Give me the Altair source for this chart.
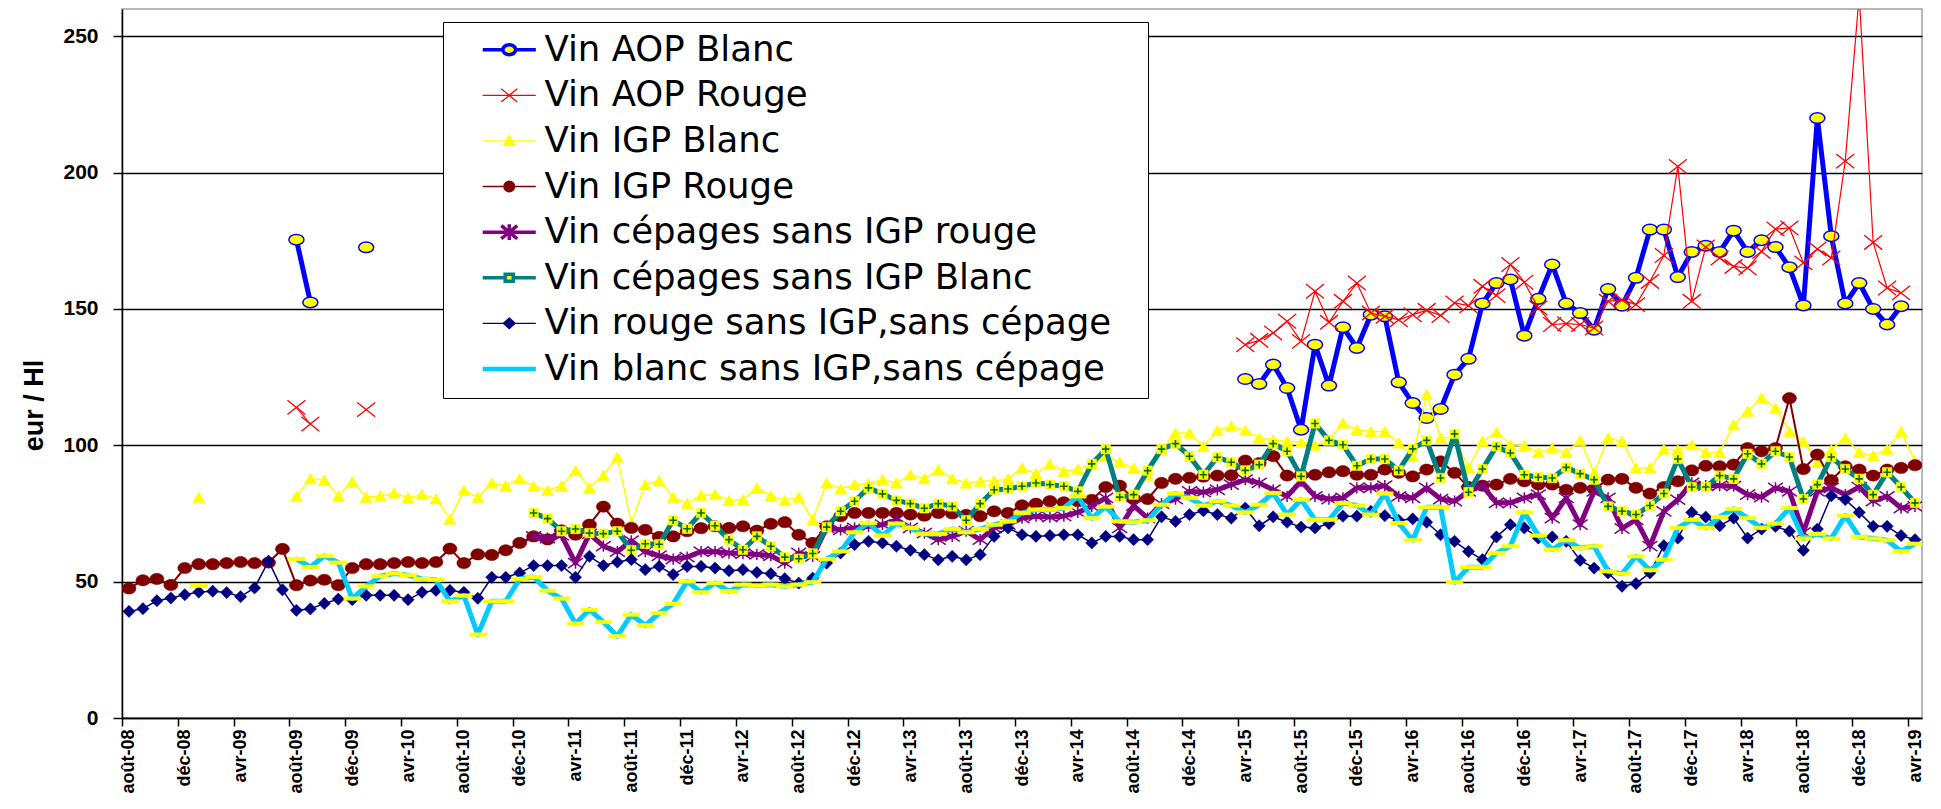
import json
import altair as alt
import pandas as pd

N = None

SERIES = [
    "Vin AOP Blanc",
    "Vin AOP Rouge",
    "Vin IGP Blanc",
    "Vin IGP Rouge",
    "Vin cépages sans IGP rouge",
    "Vin cépages sans IGP Blanc",
    "Vin rouge sans IGP,sans cépage",
    "Vin blanc sans IGP,sans cépage",
]

TICK_LABELS = [
    "août-08", "déc-08", "avr-09", "août-09", "déc-09", "avr-10", "août-10", "déc-10",
    "avr-11", "août-11", "déc-11", "avr-12", "août-12", "déc-12", "avr-13", "août-13",
    "déc-13", "avr-14", "août-14", "déc-14", "avr-15", "août-15", "déc-15", "avr-16",
    "août-16", "déc-16", "avr-17", "août-17", "déc-17", "avr-18", "août-18", "déc-18",
    "avr-19",
]

# monthly values, index 0 = août-08 ... 128 = avr-19 (None = no value)
AOP_BLANC = [N] * 12 + [175.4, 152.4] + [N] * 3 + [172.6] + [N] * 62 + [
    124.3, 122.5, 129.6, 121.0, 105.7, 136.9, 121.9, 143.3, 135.7, 147.9,
    147.3, 123.1, 115.5, 110.0, 113.3, 125.9, 131.7, 152.0, 159.5, 160.8,
    140.2, 153.7, 166.3, 152.0, 148.5, 142.4, 157.3, 151.2, 161.4, 179.1,
    179.1, 161.7, 170.9, 173.2, 170.9, 178.7, 170.9, 175.2, 172.7, 165.3,
    151.3, 220.0, 176.7, 152.0, 159.5, 150.0, 144.3, 151.0] + [N]

AOP_ROUGE = [N] * 12 + [113.9, 107.8] + [N] * 3 + [113.1] + [N] * 62 + [
    136.9, 138.5, 141.2, 145.5, 138.1, 156.5, 145.1, 152.8, 159.5, 148.5,
    147.3, 146.0, 147.9, 149.5, 147.6, 152.2, 151.2, 158.3, 154.9, 166.3,
    159.8, 150.4, 144.3, 144.6, 144.3, 143.0, 152.8, 153.4, 151.6, 160.1,
    169.6, 202.3, 152.8, 172.7, 168.7, 165.6, 165.0, 171.1, 179.3, 179.7,
    166.9, 172.0, 168.7, 204.2, 265.0, 174.4, 157.7, 155.9] + [N]

IGP_BLANC = [N] * 5 + [81.0] + [N] * 6 + [
    81.3, 87.8, 87.3, 81.4, 86.7, 81.0, 81.4, 82.5, 80.8, 82.0,
    80.4, 73.0, 83.5, 81.0, 86.2, 85.2, 87.8, 85.0, 83.5, 85.2,
    90.8, 84.5, 89.0, 95.7, 71.5, 85.6, 87.0, 81.0, 78.7, 81.7,
    82.0, 79.8, 80.1, 84.4, 81.5, 79.8, 81.0, 72.7, 86.2, 84.0,
    85.6, 86.0, 87.4, 86.2, 89.2, 87.8, 91.1, 87.8, 86.2, 86.8,
    87.0, 87.7, 91.7, 89.6, 93.2, 90.5, 91.3, 93.0, 96.0, 93.9,
    91.7, 89.0, 98.5, 104.5, 104.5, 99.6, 105.5, 107.0, 105.5, 102.7,
    102.0, 101.5, 101.1, 100.0, 102.0, 108.2, 105.7, 105.1, 105.1, 100.9,
    96.0, 118.6, 102.7, 103.0, 91.7, 101.5, 104.8, 100.2, 99.9, 97.4,
    99.0, 97.4, 101.8, 89.9, 102.7, 101.5, 91.7, 91.7, 98.6, 98.4,
    100.2, 97.4, 97.4, 107.6, 112.5, 117.4, 113.7, 105.1, 101.5, 94.0,
    98.4, 102.7, 97.4, 96.2, 98.6, 105.1, 94.1]

IGP_ROUGE = [
    47.5, 50.5, 51.0, 48.8, 55.0, 56.4, 56.4, 56.8, 57.2, 56.8,
    57.0, 62.0, 48.7, 50.4, 50.7, 48.7, 55.0, 56.4, 56.4, 56.8,
    57.2, 56.8, 57.2, 62.1, 56.8, 60.0, 59.8, 61.5, 64.2, 66.6,
    65.5, 68.8, 67.2, 70.9, 77.5, 71.3, 69.7, 69.0, 66.4, 66.6,
    68.5, 69.6, 70.3, 69.7, 70.3, 68.7, 71.2, 71.8, 67.2, 64.2,
    70.3, 74.0, 75.2, 75.2, 75.2, 75.2, 74.6, 74.2, 75.2, 75.0,
    74.5, 74.0, 75.8, 75.2, 78.0, 78.6, 79.5, 79.1, 79.5, 80.0,
    84.7, 85.2, 80.5, 80.3, 86.2, 87.7, 88.1, 88.5, 88.9, 89.0,
    94.4, 93.5, 96.0, 88.9, 89.2, 89.2, 90.1, 90.5, 89.2, 89.2,
    91.1, 89.9, 88.6, 91.1, 94.1, 89.9, 84.7, 85.2, 85.6, 87.7,
    86.8, 85.6, 85.6, 83.7, 84.4, 84.0, 87.4, 87.7, 84.4, 82.3,
    84.7, 86.8, 90.8, 92.5, 92.3, 92.9, 99.0, 97.8, 99.0, 117.3,
    91.3, 96.6, 87.2, 92.3, 91.1, 88.9, 91.1, 91.7, 92.7]

CEP_ROUGE = [N] * 29 + [
    66.6, 66.0, 67.0, 56.8, 67.5, 63.0, 61.0, 65.0, 61.0, 59.5,
    58.3, 59.0, 61.0, 61.0, 60.5, 60.3, 60.0, 59.5, 56.8, 60.5,
    59.3, 69.7, 69.0, 69.7, 70.3, 70.9, 72.7, 69.7, 67.8, 65.4,
    66.6, 68.5, 65.4, 69.7, 70.9, 73.3, 74.0, 73.7, 74.0, 75.4,
    77.6, 80.7, 69.7, 77.9, 73.3, 78.6, 80.3, 83.1, 82.8, 83.7,
    85.6, 87.4, 86.2, 83.7, 81.3, 86.8, 81.3, 80.3, 80.7, 84.4,
    84.4, 85.2, 81.3, 80.7, 84.4, 80.3, 79.5, 83.1, 85.2, 78.9,
    78.9, 80.7, 81.9, 73.3, 80.7, 70.9, 83.1, 80.7, 69.5, 72.7,
    63.0, 75.8, 80.1, 86.2, 85.2, 85.2, 85.0, 81.9, 81.0, 84.4,
    83.1, 68.1, 83.1, 84.4, 81.9, 84.7, 79.5, 81.3, 77.0, 77.6]

CEP_BLANC = [N] * 29 + [
    75.2, 73.1, 68.5, 69.3, 67.8, 67.6, 68.5, 61.5, 63.9, 63.7,
    72.5, 69.4, 75.2, 70.5, 65.4, 61.7, 66.6, 63.0, 59.0, 58.4,
    60.3, 70.0, 75.8, 79.5, 84.4, 82.2, 79.8, 78.6, 76.9, 78.6,
    77.6, 72.5, 78.6, 83.7, 84.0, 85.0, 86.2, 85.6, 85.0, 83.1,
    93.2, 98.6, 81.0, 81.9, 90.7, 98.6, 100.6, 96.0, 89.2, 95.6,
    93.8, 90.8, 92.9, 100.6, 97.8, 88.6, 108.0, 101.8, 100.2, 92.5,
    95.0, 95.0, 90.8, 98.7, 101.8, 88.0, 104.2, 82.8, 91.3, 99.6,
    97.2, 89.2, 88.3, 88.0, 91.9, 89.6, 87.4, 77.6, 75.8, 74.6,
    77.9, 82.3, 95.0, 84.7, 84.7, 88.9, 87.7, 96.9, 93.2, 97.8,
    95.7, 80.3, 85.6, 95.7, 91.3, 87.7, 81.9, 90.1, 84.7, 78.9]

ROUGE_SANS = [
    39.1, 40.1, 43.0, 44.0, 45.2, 46.2, 46.5, 46.0, 44.5, 47.7,
    57.5, 47.0, 39.5, 40.0, 42.0, 43.6, 43.4, 45.0, 45.0, 45.0,
    43.4, 46.1, 46.8, 46.8, 46.1, 43.9, 51.6, 51.6, 53.2, 55.9,
    55.9, 55.9, 51.6, 59.3, 55.9, 57.2, 58.1, 54.4, 55.6, 52.6,
    55.6, 55.6, 55.0, 54.0, 54.4, 53.4, 52.9, 51.1, 49.5, 51.3,
    56.8, 60.5, 63.6, 64.8, 64.2, 63.0, 61.5, 59.9, 58.0, 59.3,
    58.0, 59.9, 66.6, 69.7, 67.2, 66.6, 66.9, 67.2, 67.2, 64.2,
    66.6, 66.6, 65.4, 65.4, 73.8, 72.1, 74.6, 76.0, 74.6, 73.3,
    77.0, 70.5, 73.8, 71.8, 70.0, 69.7, 71.3, 74.0, 74.0, 75.8,
    74.2, 72.5, 73.0, 71.8, 67.2, 64.8, 61.1, 58.1, 66.4, 70.9,
    69.7, 66.0, 66.4, 64.8, 57.8, 55.0, 53.2, 48.3, 49.3, 53.2,
    63.2, 66.0, 75.4, 73.7, 70.5, 73.3, 66.0, 69.3, 70.3, 68.5,
    61.5, 69.3, 81.5, 80.1, 75.4, 70.3, 70.3, 66.9, 65.4]

BLANC_SANS = [N] * 5 + [48.5] + [N] * 6 + [
    58.3, 55.4, 59.4, 57.0, 43.8, 48.3, 52.0, 53.0, 52.4, 51.0,
    50.7, 42.8, 44.9, 30.6, 42.8, 42.8, 51.0, 51.7, 46.7, 43.8,
    34.6, 39.7, 35.2, 30.0, 37.9, 34.0, 38.5, 41.9, 50.1, 46.1,
    49.5, 46.5, 48.9, 48.5, 48.9, 48.3, 48.9, 49.8, 58.3, 61.1,
    68.1, 71.5, 66.9, 71.3, 69.7, 67.5, 67.5, 69.3, 68.1, 69.3,
    70.9, 72.1, 75.2, 76.4, 76.4, 77.0, 81.3, 73.3, 77.5, 72.1,
    71.8, 72.5, 78.2, 82.3, 80.7, 77.9, 79.5, 77.9, 75.4, 78.2,
    82.5, 74.6, 80.1, 72.7, 72.7, 78.8, 77.9, 74.6, 82.3, 71.5,
    65.2, 77.3, 77.3, 49.8, 55.3, 55.3, 60.5, 63.0, 75.4, 66.9,
    61.7, 65.2, 62.3, 63.0, 53.8, 52.9, 59.3, 54.2, 58.1, 69.7,
    72.7, 69.7, 73.7, 76.7, 73.3, 69.7, 71.3, 77.0, 65.8, 67.5,
    65.8, 74.2, 66.4, 65.8, 65.2, 61.1, 63.9]

VALUES = [AOP_BLANC, AOP_ROUGE, IGP_BLANC, IGP_ROUGE, CEP_ROUGE, CEP_BLANC, ROUGE_SANS, BLANC_SANS]

# ---------- long table, with one segment id per unbroken run ----------
rows = []
for name, vals in zip(SERIES, VALUES):
    seg, prev = 0, False
    for i, v in enumerate(vals):
        if v is None:
            prev = False
            continue
        if not prev:
            seg += 1
        prev = True
        rows.append({"i": i, "serie": name, "v": v, "seg": f"{name}#{seg}"})
df = pd.DataFrame(rows)

# ---------- styles ----------
ELLIPSE = "M-1,0A1,0.7,0,1,0,1,0A1,0.7,0,1,0,-1,0Z"
ELLIPSE_R = "M-1,0A1,0.8,0,1,0,1,0A1,0.8,0,1,0,-1,0Z"
XMARK = "M-1,-0.8L1,0.8M-1,0.8L1,-0.8"
STAR = "M-1,-0.67L1,0.67M-1,0.67L1,-0.67M0,-0.75L0,0.75"
PLUS = "M-1,0L1,0M0,-1L0,1"
DASH = "M-1,-0.22L1,-0.22L1,0.22L-1,0.22Z"

LINE_STYLE = {
    "Vin AOP Blanc": ("#0000FF", 5),
    "Vin AOP Rouge": ("#FF0000", 1.2),
    "Vin IGP Blanc": ("#FFFF00", 1.5),
    "Vin IGP Rouge": ("#800000", 2),
    "Vin cépages sans IGP rouge": ("#800080", 5),
    "Vin cépages sans IGP Blanc": ("#008080", 5),
    "Vin rouge sans IGP,sans cépage": ("#000080", 1.5),
    "Vin blanc sans IGP,sans cépage": ("#00CCFF", 5),
}
MARKERS = {
    "Vin AOP Blanc": [dict(shape=ELLIPSE, size=225, fill="#FFFF00", stroke="#0000FF", strokeWidth=1.5)],
    "Vin AOP Rouge": [dict(shape=XMARK, size=324, fill="transparent", stroke="#FF0000", strokeWidth=1.3)],
    "Vin IGP Blanc": [dict(shape="triangle-up", size=150, fill="#FFFF00", stroke="#FFFF00", strokeWidth=0.5)],
    "Vin IGP Rouge": [dict(shape=ELLIPSE_R, size=196, fill="#800000", stroke="#800000", strokeWidth=0.5)],
    "Vin cépages sans IGP rouge": [dict(shape=STAR, size=225, fill="transparent", stroke="#800080", strokeWidth=1.5)],
    "Vin cépages sans IGP Blanc": [
        dict(shape="square", size=90, fill="#FFFF00", stroke="#FFFF00", strokeWidth=0.5),
        dict(shape=PLUS, size=56, fill="transparent", stroke="#007000", strokeWidth=1.6),
    ],
    "Vin rouge sans IGP,sans cépage": [dict(shape="diamond", size=150, fill="#000080", stroke="#000080", strokeWidth=0.5)],
    "Vin blanc sans IGP,sans cépage": [dict(shape=DASH, size=289, fill="#FFFF00", stroke="#FFFF00", strokeWidth=0.3)],
}

# legend symbols: a line plus the marker (1 unit = 15 px at symbolSize 900)
LEG_SHAPES = [
    "M-1.77,0L-0.43,0M0.43,0L1.77,0M-0.43,0A0.43,0.33,0,1,0,0.43,0A0.43,0.33,0,1,0,-0.43,0Z",
    "M-1.77,0L1.77,0M-0.53,-0.44L0.53,0.44M-0.53,0.44L0.53,-0.44",
    "M-1.77,0L1.77,0M0,-0.36L0.39,0.3L-0.39,0.3Z",
    "M-1.77,0L1.77,0M-0.35,0A0.35,0.35,0,1,0,0.35,0A0.35,0.35,0,1,0,-0.35,0Z",
    "M-1.77,0L1.77,0M-0.53,-0.44L0.53,0.44M-0.53,0.44L0.53,-0.44M0,-0.53L0,0.53",
    "M-1.77,0L-0.27,0M0.27,0L1.77,0M-0.27,-0.23L0.27,-0.23L0.27,0.23L-0.27,0.23Z",
    "M-1.77,0L1.77,0M0,-0.35L0.39,0L0,0.35L-0.39,0Z",
    "M-1.77,0L1.77,0",
]
LEG_FILLS = ["#FFFF00", "transparent", "#FFFF00", "#800000", "transparent", "#FFFF00", "#000080", "transparent"]
LEG_STROKES = ["#0000FF", "#FF0000", "#FFFF00", "#800000", "#800080", "#008080", "#000080", "#00CCFF"]
LEG_WIDTHS = [3.5, 1.3, 1.3, 1.5, 3.5, 3.5, 1.3, 4.5]

# ---------- axes ----------
label_js = json.dumps(TICK_LABELS, ensure_ascii=False)
x_axis = alt.Axis(
    values=list(range(0, 129, 4)),
    labelExpr=f"{label_js}[round(datum.value / 4)]",
    labelAngle=270,
    labelFont="Liberation Sans",
    labelFontSize=18,
    labelFontWeight="bold",
    labelColor="black",
    labelPadding=3,
    tickOffset=-7,
    labelOffset=7,
    tickSize=8,
    tickColor="black",
    tickWidth=1.5,
    domainColor="black",
    domainWidth=1.5,
    grid=False,
    title=None,
)
y_axis = alt.Axis(
    values=[0, 50, 100, 150, 200, 250],
    grid=True,
    gridColor="black",
    gridWidth=1.5,
    gridOpacity=1,
    domainColor="black",
    domainWidth=1.5,
    tickColor="black",
    tickWidth=1.5,
    tickSize=9,
    labelFont="Liberation Sans",
    labelFontSize=21,
    labelFontWeight="bold",
    labelColor="black",
    labelPadding=15,
    title="eur / Hl",
    titleFont="Liberation Sans",
    titleFontSize=27,
    titleFontWeight="bold",
    titleColor="black",
    titleAngle=270,
    titleX=-88,
    titleY=396,
    titleAlign="center",
    titleBaseline="middle",
)

x_enc = alt.X("i:Q", scale=alt.Scale(domain=[-0.5, 128.5], nice=False, zero=False), axis=x_axis)
y_enc = alt.Y("v:Q", scale=alt.Scale(domain=[0, 260], nice=False, zero=True), axis=y_axis)

base = alt.Chart()
layers = []
for name in SERIES:
    color, width = LINE_STYLE[name]
    sel = base.transform_filter(alt.datum.serie == name)
    layers.append(
        sel.mark_line(stroke=color, strokeWidth=width, strokeJoin="round", clip=True)
        .encode(x=x_enc, y=y_enc, detail="seg:N")
    )
    for m in MARKERS[name]:
        layers.append(
            sel.mark_point(filled=True, opacity=1, clip=True, **m).encode(x=x_enc, y=y_enc)
        )

PAD = "\u2800"
LEG = alt.Legend(
    orient="none",
    legendX=321,
    legendY=13,
    title=None,
    fillColor="white",
    strokeColor="black",
    padding=10,
    symbolOffset=38.5,
    labelOffset=17.5,
    labelFont="DejaVu Sans",
    labelFontSize=35.5,
    labelColor="black",
    labelLimit=1200,
    labelExpr=f"datum.label + '{PAD}'",
    symbolSize=900,
    symbolOpacity=1,
    rowPadding=8.6,
)
legend_layer = base.transform_filter("false").mark_point(filled=True, opacity=1).encode(
    shape=alt.Shape("serie:N", scale=alt.Scale(domain=SERIES, range=LEG_SHAPES), legend=LEG),
    fill=alt.Fill("serie:N", scale=alt.Scale(domain=SERIES, range=LEG_FILLS), legend=LEG),
    stroke=alt.Stroke("serie:N", scale=alt.Scale(domain=SERIES, range=LEG_STROKES), legend=LEG),
    strokeWidth=alt.StrokeWidth(
        "serie:N", scale=alt.Scale(type="ordinal", domain=SERIES, range=LEG_WIDTHS), legend=LEG
    ),
)

chart = (
    alt.layer(*layers, legend_layer, data=df)
    .properties(
        width=1800,
        height=709,
        padding={"left": 114, "top": 1, "right": 10, "bottom": 83},
        autosize=alt.AutoSizeParams(type="none"),
        background="white",
    )
    .configure_view(fill="#C0C0C0", stroke="#A0A0A0", strokeWidth=1.5)
)

chart.save("out.html", embed_options={"renderer": "svg", "actions": False})
